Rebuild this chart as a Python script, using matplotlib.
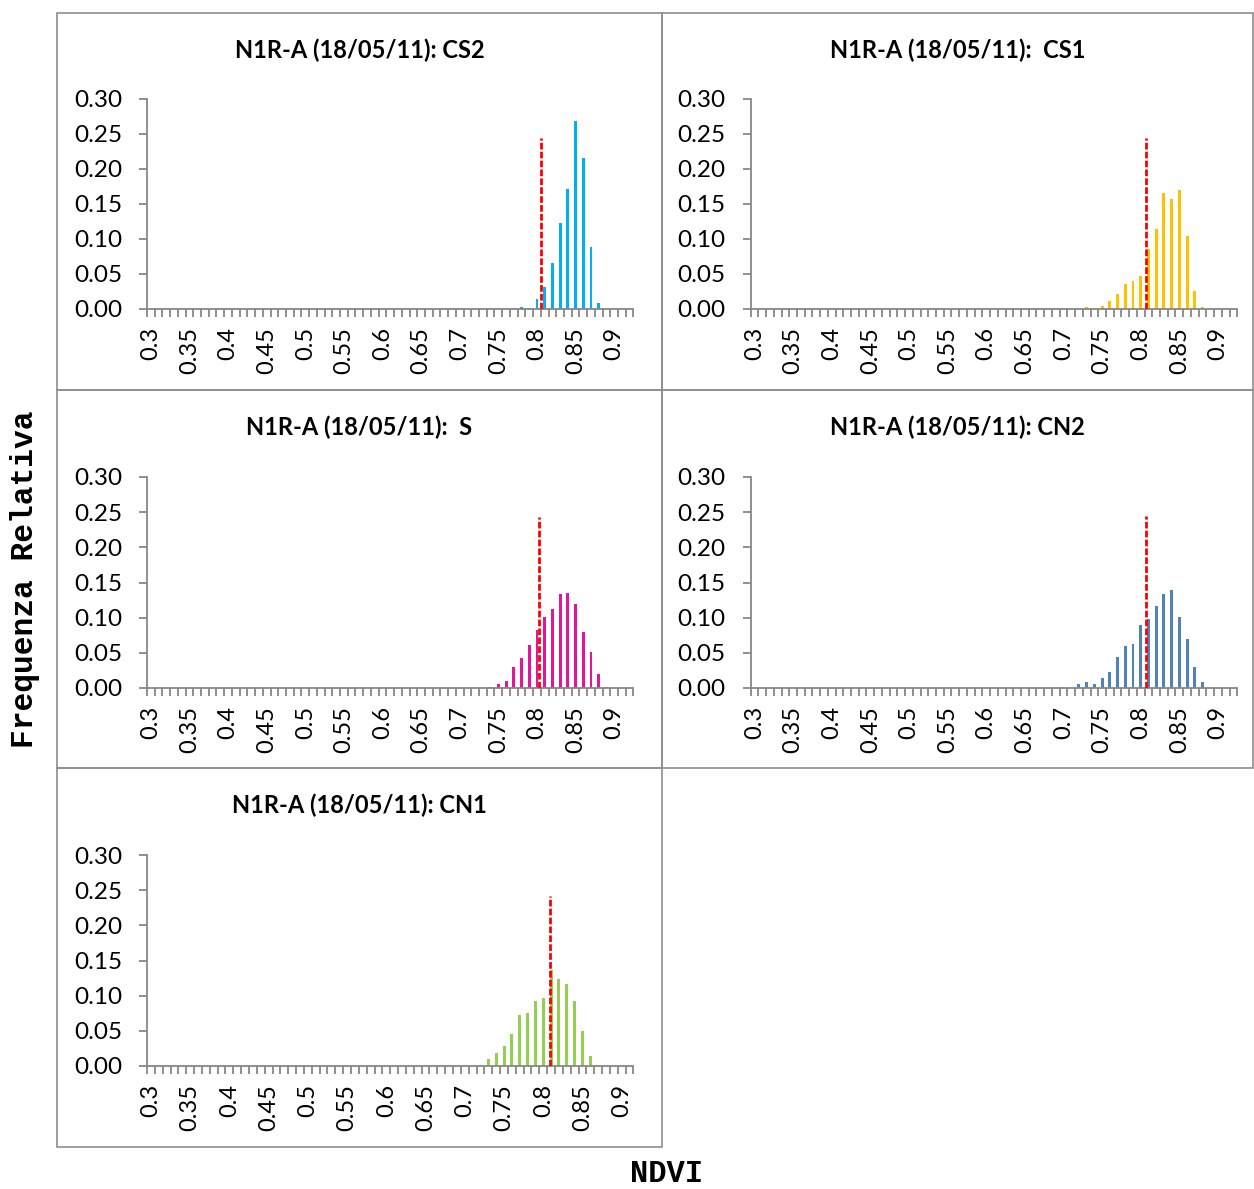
import matplotlib
matplotlib.use("Agg")
import matplotlib.pyplot as plt
from matplotlib.patches import Rectangle
from matplotlib.ticker import FixedLocator, FixedFormatter, FormatStrFormatter

# ---------------- data ----------------
titles = ["N1R-A (18/05/11): CS2", "N1R-A (18/05/11):  CS1", "N1R-A (18/05/11):  S",
          "N1R-A (18/05/11): CN2", "N1R-A (18/05/11): CN1"]
colors = ["#00B0F0", "#FFC000", "#E3169B", "#4F81BD", "#92D050"]

bins_cs2 = [0.77, 0.78, 0.79, 0.80, 0.81, 0.82, 0.83, 0.84, 0.85, 0.86, 0.87, 0.88]
freq_cs2 = [0.001, 0.003, 0.002, 0.014, 0.031, 0.066, 0.123, 0.171, 0.268, 0.216, 0.089, 0.009]

bins_cs1 = [0.73, 0.74, 0.75, 0.76, 0.77, 0.78, 0.79, 0.80, 0.81, 0.82, 0.83, 0.84, 0.85, 0.86, 0.87, 0.88]
freq_cs1 = [0.003, 0.002, 0.004, 0.012, 0.022, 0.035, 0.040, 0.047, 0.086, 0.114, 0.165, 0.157, 0.170, 0.104, 0.026, 0.003]

bins_s = [0.74, 0.75, 0.76, 0.77, 0.78, 0.79, 0.80, 0.81, 0.82, 0.83, 0.84, 0.85, 0.86, 0.87, 0.88, 0.89]
freq_s = [0.0014, 0.005, 0.010, 0.030, 0.042, 0.061, 0.083, 0.101, 0.113, 0.133, 0.135, 0.119, 0.080, 0.051, 0.020, 0.002]

bins_cn2 = [0.70, 0.71, 0.72, 0.73, 0.74, 0.75, 0.76, 0.77, 0.78, 0.79, 0.80, 0.81, 0.82, 0.83, 0.84, 0.85, 0.86, 0.87, 0.88]
freq_cn2 = [0.002, 0.0, 0.005, 0.008, 0.006, 0.014, 0.023, 0.044, 0.060, 0.063, 0.089, 0.098, 0.117, 0.133, 0.139, 0.101, 0.070, 0.030, 0.008]

bins_cn1 = [0.70, 0.71, 0.72, 0.73, 0.74, 0.75, 0.76, 0.77, 0.78, 0.79, 0.80, 0.81, 0.82, 0.83, 0.84, 0.85, 0.86]
freq_cn1 = [0.001, 0.0005, 0.0015, 0.0095, 0.018, 0.028, 0.046, 0.072, 0.076, 0.092, 0.097, 0.137, 0.124, 0.117, 0.093, 0.050, 0.014]

mean_ndvi = [0.805, 0.807, 0.803, 0.807, 0.808]
mean_line_top = [0.244, 0.244, 0.243, 0.244, 0.241]
last_bin = [0.92, 0.92, 0.92, 0.92, 0.91]

x_labels = ["0.3", "0.35", "0.4", "0.45", "0.5", "0.55", "0.6", "0.65", "0.7", "0.75", "0.8", "0.85", "0.9"]
x_label_vals = [0.30, 0.35, 0.40, 0.45, 0.50, 0.55, 0.60, 0.65, 0.70, 0.75, 0.80, 0.85, 0.90]
y_ticks = [0.00, 0.05, 0.10, 0.15, 0.20, 0.25, 0.30]

all_bins = [bins_cs2, bins_cs1, bins_s, bins_cn2, bins_cn1]
all_freq = [freq_cs2, freq_cs1, freq_s, freq_cn2, freq_cn1]

# ---------------- layout ----------------
W, H = 1254, 1189
fig = plt.figure(figsize=(W / 100, H / 100), dpi=100)
GRAY = "#878787"
TICKFONT = "Lato"

# axes boxes in pixels: (left, top(0.30), right, bottom(0.00))
ax_px = [(147, 99, 633.5, 309), (750.6, 99, 1237.3, 309),
         (147, 477, 633.5, 688), (750.6, 477, 1237.3, 688),
         (147, 855, 633.5, 1066)]
# panel frames in pixels: (x0, y0, x1, y1)
frames = [(57, 13, 662, 390), (662, 13, 1253, 390),
          (57, 390, 662, 768), (662, 390, 1253, 768),
          (57, 768, 662, 1147)]

for fx0, fy0, fx1, fy1 in frames:
    fig.add_artist(Rectangle((fx0 / W, 1 - fy1 / H), (fx1 - fx0) / W, (fy1 - fy0) / H,
                             transform=fig.transFigure, fill=False,
                             edgecolor="#8E8E8E", linewidth=1.2))

for i in range(5):
    l, t, r, b = ax_px[i]
    ax = fig.add_axes([l / W, 1 - b / H, (r - l) / W, (b - t) / H])
    ax.bar(all_bins[i], all_freq[i], width=0.0038, color=colors[i], zorder=2)
    ax.plot([mean_ndvi[i], mean_ndvi[i]], [0, mean_line_top[i]], color="#FF0000",
            linewidth=2.0, linestyle=(0, (2.4, 0.8)), zorder=3)
    x_lo, x_hi = 0.295, last_bin[i] + 0.005
    ax.set_xlim(x_lo, x_hi)
    ax.set_ylim(0, 0.30)
    for s in ["top", "right"]:
        ax.spines[s].set_visible(False)
    for s in ["left", "bottom"]:
        ax.spines[s].set_color(GRAY)
        ax.spines[s].set_linewidth(1.3)
    ax.spines["left"].set_zorder(1)
    ax.set_yticks(y_ticks)
    ax.yaxis.set_major_formatter(FormatStrFormatter("%.2f"))
    ax.tick_params(axis="y", direction="out", length=6, width=1.3, color=GRAY,
                   pad=12, labelsize=17.5)
    ax.xaxis.set_major_locator(FixedLocator(x_label_vals))
    ax.xaxis.set_major_formatter(FixedFormatter(x_labels))
    nb = int(round((x_hi - x_lo) / 0.01))
    ax.xaxis.set_minor_locator(FixedLocator([x_lo + k * 0.01 for k in range(nb + 1)]))
    ax.tick_params(axis="x", which="major", length=0, pad=13, labelsize=17,
                   labelrotation=90)
    ax.tick_params(axis="x", which="minor", direction="out", length=5.5, width=1.3,
                   color=GRAY)
    for lab in ax.get_xticklabels() + ax.get_yticklabels():
        lab.set_fontfamily(TICKFONT)
    fx0, fy0, fx1, fy1 = frames[i]
    fig.text((fx0 + fx1) / 2 / W, 1 - 50 / H - (fy0 - 13) / H, titles[i],
             ha="center", va="center", fontsize=17, fontweight="bold",
             fontfamily="Lato")

fig.text(25 / W, 1 - 579 / H, "Frequenza Relativa", rotation=90, ha="center",
         va="center", fontsize=22.5, fontweight="bold", fontfamily="Liberation Mono")
fig.text(667 / W, 1 - 1174 / H, "NDVI", ha="center", va="center", fontsize=22,
         fontweight="bold", fontfamily="Liberation Mono")

fig.savefig("out.png", dpi=100, facecolor="white")
